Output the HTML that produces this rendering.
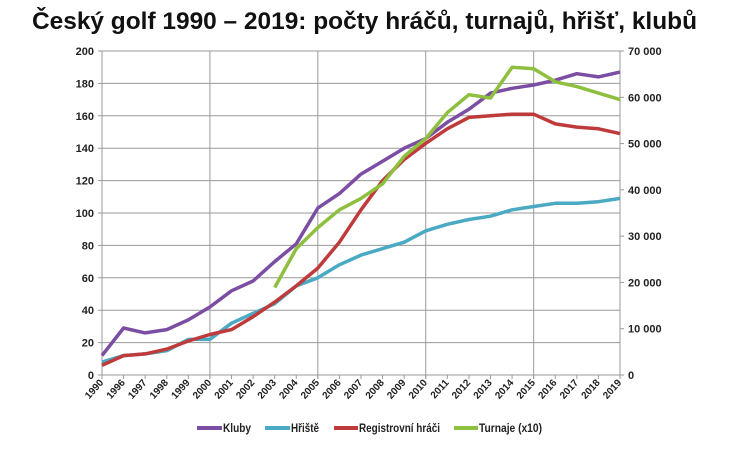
<!DOCTYPE html>
<html><head><meta charset="utf-8"><style>
body{margin:0;background:#fff;}
svg{display:block;font-family:"Liberation Sans",sans-serif;}
</style></head><body>
<svg id="s" width="730" height="459" xmlns="http://www.w3.org/2000/svg">
<text x="32" y="29" font-size="24" font-weight="bold" fill="#111" textLength="665" lengthAdjust="spacingAndGlyphs">Český golf 1990 – 2019: počty hráčů, turnajů, hřišť, klubů</text>
<g id="g"></g>
<g font-size="12" font-weight="bold" fill="#222">
<line x1="197" y1="428" x2="222" y2="428" stroke="#7b4ea3" stroke-width="4"/><text x="223" y="432" textLength="28" lengthAdjust="spacingAndGlyphs">Kluby</text>
<line x1="265" y1="428" x2="290" y2="428" stroke="#4aa9c3" stroke-width="4"/><text x="291" y="432" textLength="28" lengthAdjust="spacingAndGlyphs">Hřiště</text>
<line x1="334" y1="428" x2="358" y2="428" stroke="#bf3a3a" stroke-width="4"/><text x="359" y="432" textLength="81" lengthAdjust="spacingAndGlyphs">Registrovní hráči</text>
<line x1="454" y1="428" x2="478" y2="428" stroke="#8fbf3f" stroke-width="4"/><text x="479" y="432" textLength="63" lengthAdjust="spacingAndGlyphs">Turnaje (x10)</text>
</g>
</svg>
<script>
var g=document.getElementById('g'),h='';
var L=102,R=620,T=51,B=375,dx=(R-L)/24,ky=(B-T)/200;
function Y(v){return B-v*ky;}
for(var i=0;i<=10;i++){var y=Y(i*20);h+='<line x1="'+(L-4)+'" y1="'+y+'" x2="'+R+'" y2="'+y+'" stroke="#999" stroke-width="1"/>';
h+='<text x="'+(L-8)+'" y="'+(y+4)+'" text-anchor="end" font-size="11" font-weight="bold" fill="#222">'+(i*20)+'</text>';}
for(var i=0;i<=24;i+=5){var x=L+i*dx;h+='<line x1="'+x+'" y1="'+T+'" x2="'+x+'" y2="'+(B+4)+'" stroke="#999"/>';}
for(var i=0;i<=24;i++){var x=L+i*dx;h+='<line x1="'+x+'" y1="'+B+'" x2="'+x+'" y2="'+(B+4)+'" stroke="#999"/>';}
h+='<line x1="'+R+'" y1="'+T+'" x2="'+R+'" y2="'+B+'" stroke="#999"/>';
for(var i=0;i<=7;i++){var y=B-i*(B-T)/7;h+='<line x1="'+R+'" y1="'+y+'" x2="'+(R+4)+'" y2="'+y+'" stroke="#999"/>';
h+='<text x="'+(R+8)+'" y="'+(y+4)+'" font-size="11" font-weight="bold" fill="#222">'+(i==0?'0':(i*10)+' 000')+'</text>';}
var yrs=[1990];for(var k=1996;k<=2019;k++)yrs.push(k);
yrs.forEach(function(yr,i){var x=L+i*dx+2;h+='<text transform="translate('+x+',383) rotate(-48)" text-anchor="end" font-size="10" font-weight="bold" fill="#222">'+yr+'</text>';});
function line(d,s,c){var p=d.map(function(v,i){return (L+(i+s)*dx).toFixed(1)+','+Y(v).toFixed(1);}).join(' ');
h+='<polyline points="'+p+'" fill="none" stroke="'+c+'" stroke-width="3.5" stroke-linejoin="round"/>';}
line([12,29,26,28,34,42,52,58,70,81,103,112,124,132,140,146,156,164,174,177,179,182,186,184,187],0,'#7b4ea3');
line([8,12,13,15,22,22,32,38,44,55,60,68,74,78,82,89,93,96,98,102,104,106,106,107,109],0,'#4aa9c3');
line([6,12,13,16,21,25,28,36,45,55,66,82,102,120,133,143,152,159,160,161,161,155,153,152,149],0,'#bf3a3a');
line([54,78,91,102,109,118,135,146,162,173,171,190,189,181,178,174,170],8,'#8fbf3f');
g.innerHTML=h;
</script>
</body></html>
